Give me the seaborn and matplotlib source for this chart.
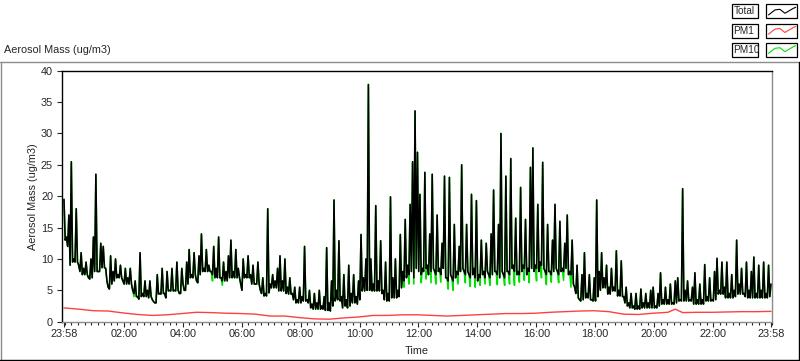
import numpy as np
import pandas as pd
import seaborn as sns
import matplotlib.pyplot as plt
from matplotlib.patches import Rectangle
from matplotlib.lines import Line2D

# leituras a cada 5 minutos, a partir de 23:58: pico e vale de cada janela
step_min = 5
total_hi = [19.5, 13.5, 17, 25.5, 10, 18, 9, 11, 8.5, 9.5,
            7, 10, 13.5, 23.5, 8, 12.5, 12, 8.5, 5.5, 10.5,
            8, 10, 7.5, 9, 6.5, 8.5, 7, 8.5, 5, 6.5,
            4, 11, 4.5, 6.5, 5, 6.5, 3.5, 3, 7.5, 4.5,
            8.5, 4.5, 8, 5, 8.5, 5, 9.5, 4.5, 8.5, 5,
            9.5, 11.5, 7.5, 11, 6.5, 10.5, 14, 8.5, 11.5, 9,
            8, 12, 8.5, 13.5, 7, 9.5, 8, 10.5, 13, 8,
            11.5, 8.5, 6, 10, 7.5, 10.5, 7.5, 9, 6, 9.5,
            5, 7, 4.5, 18, 6, 7.5, 6.5, 8.5, 10.5, 6.5,
            10, 5.5, 7, 4.5, 5.5, 3.5, 5.5, 4, 12, 3.5,
            5, 2.8, 4.5, 3, 5, 2.5, 4, 11.8, 3, 6.5,
            19.4, 5, 12.9, 4, 7.5, 3.5, 9, 4.5, 7.5, 4,
            6.5, 13.9, 7, 10, 37.8, 10, 6, 18.5, 6.5, 12.9,
            5, 9.5, 4.5, 19.9, 7, 10, 5, 13.9, 8, 16.3,
            9, 18.7, 25.5, 33.6, 27, 20.3, 8.5, 23.8, 9, 14,
            23.5, 8, 17, 8.5, 12.5, 23.2, 7, 23, 7, 15.5,
            8, 12, 25, 8, 15.5, 7.5, 20.3, 8.5, 19.3, 7.5,
            13, 8, 12.5, 7.5, 14, 21, 8, 15.5, 30, 7.5,
            23.2, 8, 26, 9, 16.5, 8, 21.4, 9, 16.3, 8.5,
            24.6, 27.7, 9, 18.7, 9.5, 25.4, 8, 15.5, 8, 13,
            18.7, 8, 16, 8.5, 12.5, 17, 8, 13, 5.5, 9,
            3.5, 7.5, 11, 4.5, 7.5, 3.5, 7, 19.4, 8, 11,
            7, 9, 5.5, 8.5, 5.5, 11.3, 5, 9.7, 4, 5.5,
            3, 4.5, 2.5, 4.5, 2.5, 5.2, 3, 4.5, 3, 5,
            5.5, 2.5, 4.5, 7.8, 3.5, 5.5, 3.5, 6, 3, 6.5,
            7, 3.5, 21.2, 5, 6.5, 3.5, 5.5, 7.8, 3.5, 6,
            3.5, 9.1, 4, 7, 3.5, 8, 10.1, 5, 9.5, 5.5,
            9.5, 4.5, 7.5, 5, 13, 6, 8.5, 4.5, 9.5, 5,
            8, 10.3, 4.5, 9, 5, 9.5, 4.5, 9, 6]

total_lo = [13, 12, 9, 9.5, 9.5, 9.5, 8, 7.5, 7.5, 7.5,
            6.8, 7, 8, 8, 8, 8.6, 8.6, 6.5, 5.2, 6,
            6.5, 7, 7, 7, 6, 6, 6, 6, 4.5, 4,
            3.6, 4, 4, 4, 3.8, 4, 3.2, 3, 4.4, 4.4,
            4.5, 3.8, 4.9, 4.9, 4.9, 4.9, 5, 4.5, 6, 5,
            6, 7, 7, 7.5, 6.2, 7.5, 8, 8, 8, 8,
            7.5, 7, 7, 7, 6.5, 6.5, 6.5, 7, 7, 7,
            7, 7, 5, 7, 7, 7, 6, 6, 6, 6,
            4.5, 4.1, 4.1, 4.6, 5.4, 5.4, 5.4, 4.9, 4.9, 4.9,
            4.5, 4.4, 4.4, 3.5, 3, 3, 3, 3.3, 3.3, 3,
            2.2, 2, 2, 2, 2, 2, 1.8, 1.8, 1.7, 2.5,
            3.3, 3.5, 3.3, 2.2, 2.5, 2.2, 2.5, 3, 3, 2.8,
            3.5, 4.9, 4.9, 5, 5, 4.9, 4.9, 4.9, 4.9, 4.5,
            3.5, 3.3, 3.3, 3.8, 3.8, 3.8, 4, 5.4, 6.5, 7,
            7.5, 8, 7, 8.5, 8, 7.5, 8, 8.5, 7.5, 8,
            8.5, 7.5, 8, 7.5, 8.5, 7, 6.5, 7.5, 6.5, 7,
            7.5, 8, 8.5, 7.5, 8, 7, 7.5, 7, 6.5, 7,
            7.5, 7, 8, 7, 7.5, 8, 7.5, 7, 8, 7,
            8, 7.5, 8.5, 8, 7.5, 7.5, 8, 8.5, 7.5, 8,
            8.5, 8, 8.5, 8, 9, 8.5, 7.5, 8, 7.5, 8,
            8.5, 7.5, 8, 8, 8.5, 7.5, 7.5, 6, 4.5, 3.8,
            3.3, 3.5, 3.8, 3.8, 3.5, 3.3, 3.3, 4, 5, 5.4,
            5.4, 4.4, 4.4, 4.9, 4.9, 4.1, 4.1, 4, 3, 2.5,
            2.2, 2.2, 2, 2, 2, 2.2, 2.2, 2.2, 2.2, 2.2,
            2.2, 2.2, 2.5, 2.8, 2.8, 2.8, 2.8, 2.8, 2.8, 3,
            3.3, 3.3, 3.3, 3.3, 3.3, 3.3, 2.8, 2.8, 2.8, 2.8,
            2.8, 3.3, 3.3, 3.3, 3.3, 3.5, 4.4, 4.4, 4.4, 3.8,
            3.8, 3.8, 3.8, 4, 4.4, 4.4, 4.4, 4, 3.8, 3.8,
            3.8, 3.8, 3.8, 3.8, 3.8, 3.8, 3.8, 4, 4.5]

# vales onde o PM10 desce abaixo do total (verde aparece)
pm10_low_idx = [28, 60, 64, 138, 140, 142, 145, 147, 149, 151,
                153, 156, 158, 160, 163, 165, 167, 169, 171, 173,
                176, 179, 181, 183, 185, 187, 189, 192, 194, 196,
                198, 201, 203, 206]
pm10_low_val = [4.0, 6.5, 5.8, 5.5, 6, 6, 6.2, 6.8, 6.2, 6,
                6.3, 5.2, 5, 6, 6.2, 5.6, 5.5, 5.8, 6, 5.8,
                5.9, 5.8, 6, 5.8, 6.3, 6.6, 6.2, 6.5, 7, 5.9,
                6.3, 6.2, 6.6, 5.5]

pm1_min = [0, 30, 60, 90, 120, 150, 180, 210, 240, 270, 300, 330, 360, 390,
           420, 450, 480, 510, 540, 570, 600, 630, 660, 690, 720, 750, 780,
           810, 840, 870, 900, 930, 960, 990, 1020, 1050, 1080, 1110, 1140,
           1170, 1200, 1230, 1245, 1260, 1290, 1320, 1350, 1380, 1410, 1440]
pm1 = [2.2, 2.0, 1.75, 1.7, 1.4, 1.15, 1.0, 1.1, 1.3, 1.5, 1.45, 1.35, 1.3, 1.2,
       0.9, 0.9, 0.65, 0.45, 0.4, 0.6, 0.75, 1.0, 1.0, 1.1, 1.1, 1.0, 0.9,
       1.0, 1.1, 1.2, 1.3, 1.3, 1.35, 1.5, 1.6, 1.7, 1.75, 1.6, 1.2,
       1.15, 1.35, 1.5, 2.0, 1.45, 1.5, 1.5, 1.55, 1.6, 1.6, 1.65]

tick_min = [0, 122, 242, 362, 482, 602, 722, 842, 962, 1082, 1202, 1322, 1440]
tick_lab = ["23:58", "02:00", "04:00", "06:00", "08:00", "10:00", "12:00",
            "14:00", "16:00", "18:00", "20:00", "22:00", "23:58"]

pm10_lo = list(total_lo)
for i, v in zip(pm10_low_idx, pm10_low_val):
    pm10_lo[i] = v

# pico e vale de cada janela, intercalados no tempo
t0 = np.arange(len(total_hi)) * step_min
t_pair = np.column_stack([t0, t0 + step_min / 2]).ravel()
df = pd.DataFrame({
    "min": t_pair,
    "Total": np.column_stack([total_hi, total_lo]).ravel(),
    "PM10": np.column_stack([total_hi, pm10_lo]).ravel(),
})
df = df[df["min"] <= 1440]
df_pm1 = pd.DataFrame({"min": pm1_min, "PM1": pm1})

sns.set_style("white")
plt.rcParams['font.family'] = ['Liberation Sans', 'DejaVu Sans']
plt.rcParams['font.size'] = 7.8

W, H = 800, 361
fig = plt.figure(figsize=(W / 100, H / 100), dpi=100)
ax = fig.add_axes([62 / W, 1 - 321.7 / H, 710 / W, 251 / H])

sns.lineplot(data=df_pm1, x="min", y="PM1", ax=ax, color="#ff4040", lw=1.0, estimator=None)
sns.lineplot(data=df, x="min", y="PM10", ax=ax, color="#00e000", lw=1.15, estimator=None, sort=False)
sns.lineplot(data=df, x="min", y="Total", ax=ax, color="black", lw=1.15, estimator=None, sort=False)

ax.set_xlim(-4, 1441)
ax.set_ylim(0, 40)
ax.set_yticks(range(0, 41, 5))
ax.set_xticks(tick_min)
ax.set_xticklabels(tick_lab)
minor = [122 + k * 120 / 9 for k in range(-9, 100)]
ax.set_xticks([m for m in minor if -1 <= m <= 1442], minor=True)
ax.tick_params(axis="y", length=3.4, width=0.8, pad=3, labelsize=7.8, left=True)
ax.tick_params(axis="x", which="major", length=3.6, width=0.8, pad=2, labelsize=7.8, bottom=True)
ax.tick_params(axis="x", which="minor", length=2.4, width=0.8, bottom=True)

for s in ["top", "left"]:
    ax.spines[s].set_color("black")
for s in ["bottom", "right"]:
    ax.spines[s].set_color("#8c8c8c")
for s in ax.spines.values():
    s.set_linewidth(1.0)

ax.set_ylabel("Aerosol Mass (ug/m3)", fontsize=7.8, va="center")
ax.yaxis.set_label_coords(-0.041, 0.5)
ax.set_xlabel("Time", fontsize=7.8, va="center")
ax.xaxis.set_label_coords(0.5, -0.117)


def px(x, y):
    return x / W, 1 - y / H


# moldura do painel
def fline(x0, y0, x1, y1, c):
    (a, b), (c2, d) = px(x0, y0), px(x1, y1)
    fig.add_artist(Line2D([a, c2], [b, d], color=c, lw=1.0, transform=fig.transFigure))


fline(0, 61.5, 800, 61.5, "#8c8c8c")
fline(1, 61.5, 1, 360, "#8c8c8c")
fline(0, 359.5, 800, 359.5, "black")
fline(798.5, 61.5, 798.5, 360, "black")

fig.text(*px(4, 50), "Aerosol Mass (ug/m3)", ha="left", va="center", fontsize=7.8)

# legenda estilo LabVIEW
wave_x = [0.09, 0.3, 0.46, 0.62, 0.89, 0.97]
wave_y = [0.24, 0.6, 0.64, 0.36, 0.71, 0.79]
for k, (name, col) in enumerate([("Total", "black"), ("PM1", "#ff4040"), ("PM10", "#00e000")]):
    top = 4.3 + k * 19.2
    x0, y0 = px(732.3, top + 14)
    fig.add_artist(Rectangle((x0, y0), 25.5 / W, 14 / H, fill=False, ec="black", lw=0.9,
                             transform=fig.transFigure))
    fig.text(*px(733.5, top + 7.2), name, ha="left", va="center", fontsize=7.2)
    x1, y1 = px(765.7, top + 14)
    fig.add_artist(Rectangle((x1, y1), 31 / W, 14 / H, fill=False, ec="black", lw=0.9,
                             transform=fig.transFigure))
    fig.add_artist(Line2D([x1 + wx * 31 / W for wx in wave_x],
                          [y1 + wy * 14 / H for wy in wave_y],
                          color=col, lw=0.8, transform=fig.transFigure))

fig.savefig("out.png", dpi=100)
